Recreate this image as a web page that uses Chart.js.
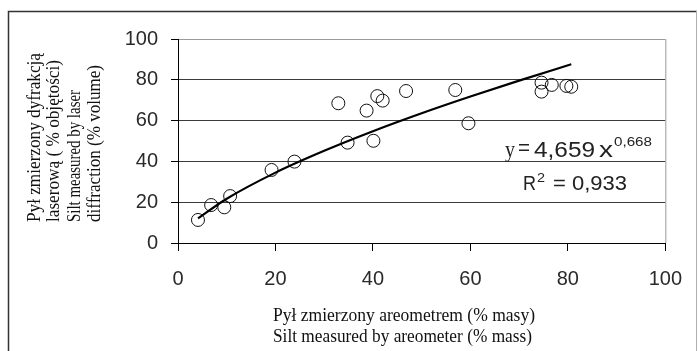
<!DOCTYPE html>
<html>
<head>
<meta charset="utf-8">
<script src="https://cdn.jsdelivr.net/npm/chart.js@4.4.0/dist/chart.umd.min.js"></script>
<style>
  html, body { margin: 0; padding: 0; background: #fff; }
  #wrap { width: 698px; height: 351px; }
</style>
</head>
<body>
<div id="wrap"><canvas id="chart" width="698" height="351"></canvas></div>
<script>
// data
const xTicks = [0, 20, 40, 60, 80, 100];
const yTicks = [0, 20, 40, 60, 80, 100];

// silt by areometer (% mass) vs silt by laser diffraction (% volume)
const siltAreometer = [4.1, 6.8, 9.5, 10.7, 19.2, 23.9, 32.9, 34.8, 38.7, 40.1, 40.9, 42.0, 46.8, 56.9, 59.6, 74.6, 74.6, 76.7, 79.7, 80.7];
const siltLaser     = [11.3, 18.6, 17.5, 23.0, 35.8, 39.9, 68.5, 49.2, 64.9, 50.1, 72.0, 69.8, 74.5, 75.0, 58.7, 78.6, 74.2, 77.5, 77.0, 76.6];

// power trend line y = 4,659 x^0,668 as drawn
const trendX = [4.1, 10, 20, 30, 40, 50, 60, 70, 80.7];
const trendY = [12.1, 21.7, 34.5, 45.2, 54.8, 63.6, 71.8, 79.6, 87.6];

const xTitle = ['Pył zmierzony areometrem (% masy)', 'Silt measured by areometer (% mass)'];
const yTitle = ['Pył zmierzony dyfrakcją', 'laserową ( % objętości)', 'Silt measured by laser', 'diffraction (% volume)'];

const tickFont = { family: "'Liberation Sans', Arial, sans-serif", size: 20 };
const serif = "'Liberation Serif', 'Times New Roman', serif";
const sans = "'Liberation Sans', Arial, sans-serif";

// draw text squeezed/stretched to a given width
function fitText(ctx, text, x, y, width) {
  const w = ctx.measureText(text).width;
  ctx.save();
  ctx.translate(x, y);
  ctx.scale(width / w, 1);
  ctx.fillText(text, 0, 0);
  ctx.restore();
}

const decor = {
  id: 'decor',
  beforeDraw(chart) {
    const ctx = chart.ctx;
    ctx.save();
    ctx.fillStyle = '#fff';
    ctx.fillRect(0, 0, chart.width, chart.height);
    // outer frame
    ctx.lineWidth = 1.5;
    ctx.strokeStyle = '#333';
    ctx.beginPath();
    ctx.moveTo(8.5, 351);
    ctx.lineTo(8.5, 11.5);
    ctx.lineTo(697, 11.5);
    ctx.stroke();
    ctx.lineWidth = 1;
    ctx.strokeStyle = '#b0b0b0';
    ctx.beginPath();
    ctx.moveTo(696.5, 11);
    ctx.lineTo(696.5, 351);
    ctx.stroke();
    ctx.restore();
  },
  afterDraw(chart) {
    const ctx = chart.ctx;
    const a = chart.chartArea;
    ctx.save();
    // plot area right border
    ctx.strokeStyle = '#9a9a9a';
    ctx.lineWidth = 1;
    ctx.beginPath();
    ctx.moveTo(a.right + 0.5, a.top);
    ctx.lineTo(a.right + 0.5, a.bottom);
    ctx.stroke();

    ctx.fillStyle = '#111';
    ctx.textAlign = 'left';
    ctx.textBaseline = 'alphabetic';

    // axis titles
    ctx.font = '18px ' + serif;
    fitText(ctx, xTitle[0], 273, 321, 262);
    fitText(ctx, xTitle[1], 273, 342, 259);

    const yLens = [169, 162, 132, 157];
    const yBase = [40, 59, 80, 100];
    yTitle.forEach((t, i) => {
      ctx.save();
      ctx.translate(yBase[i], 222);
      ctx.rotate(-Math.PI / 2);
      fitText(ctx, t, 0, 0, yLens[i]);
      ctx.restore();
    });

    // trend equation
    ctx.fillStyle = '#222';
    ctx.font = '24px ' + serif;
    fitText(ctx, 'y', 505, 157, 10);
    ctx.font = '22px ' + sans;
    fitText(ctx, '=', 518, 155, 12);
    fitText(ctx, '4,659', 534, 157, 61);
    fitText(ctx, 'x', 599, 157, 14);
    ctx.font = '13px ' + sans;
    fitText(ctx, '0,668', 614, 146, 38);

    ctx.font = '21px ' + sans;
    fitText(ctx, 'R', 523, 190, 13);
    fitText(ctx, '= 0,933', 553, 190, 74);
    ctx.font = '13px ' + sans;
    fitText(ctx, '2', 537, 182, 8);
    ctx.restore();
  }
};

new Chart(document.getElementById('chart'), {
  type: 'scatter',
  data: {
    datasets: [
      {
        label: 'trend',
        type: 'line',
        data: trendX.map((x, i) => ({ x, y: trendY[i] })),
        borderColor: '#000',
        borderWidth: 2.2,
        pointRadius: 0,
        cubicInterpolationMode: 'monotone',
        fill: false
      },
      {
        label: 'silt',
        data: siltAreometer.map((x, i) => ({ x, y: siltLaser[i] })),
        pointRadius: 6.5,
        pointBorderWidth: 1,
        pointBorderColor: '#111',
        pointBackgroundColor: 'rgba(0,0,0,0)'
      }
    ]
  },
  options: {
    responsive: false,
    devicePixelRatio: 1,
    animation: false,
    events: [],
    layout: { padding: { top: 39, right: 26, left: 0, bottom: 0 } },
    plugins: { legend: { display: false }, tooltip: { enabled: false } },
    scales: {
      x: {
        type: 'linear',
        min: 0,
        max: 100,
        afterBuildTicks: s => { s.ticks = xTicks.map(v => ({ value: v })); },
        afterFit: s => { s.height = 108; },
        grid: { drawOnChartArea: false, drawTicks: true, tickLength: 8, color: '#000', tickColor: '#000' },
        border: { display: true, color: '#000', width: 1 },
        ticks: { font: tickFont, color: '#2a2a2a', padding: 16, maxRotation: 0 }
      },
      y: {
        type: 'linear',
        min: 0,
        max: 100,
        afterBuildTicks: s => { s.ticks = yTicks.map(v => ({ value: v })); },
        afterFit: s => { s.width = 178; },
        grid: {
          color: c => (c.tick && c.tick.value === 100 ? '#9a9a9a' : '#3a3a3a'),
          tickColor: '#000',
          tickLength: 7,
          lineWidth: 1
        },
        border: { display: true, color: '#000', width: 1 },
        ticks: { font: tickFont, color: '#2a2a2a', padding: 13 }
      }
    }
  },
  plugins: [decor]
});
</script>
</body>
</html>
